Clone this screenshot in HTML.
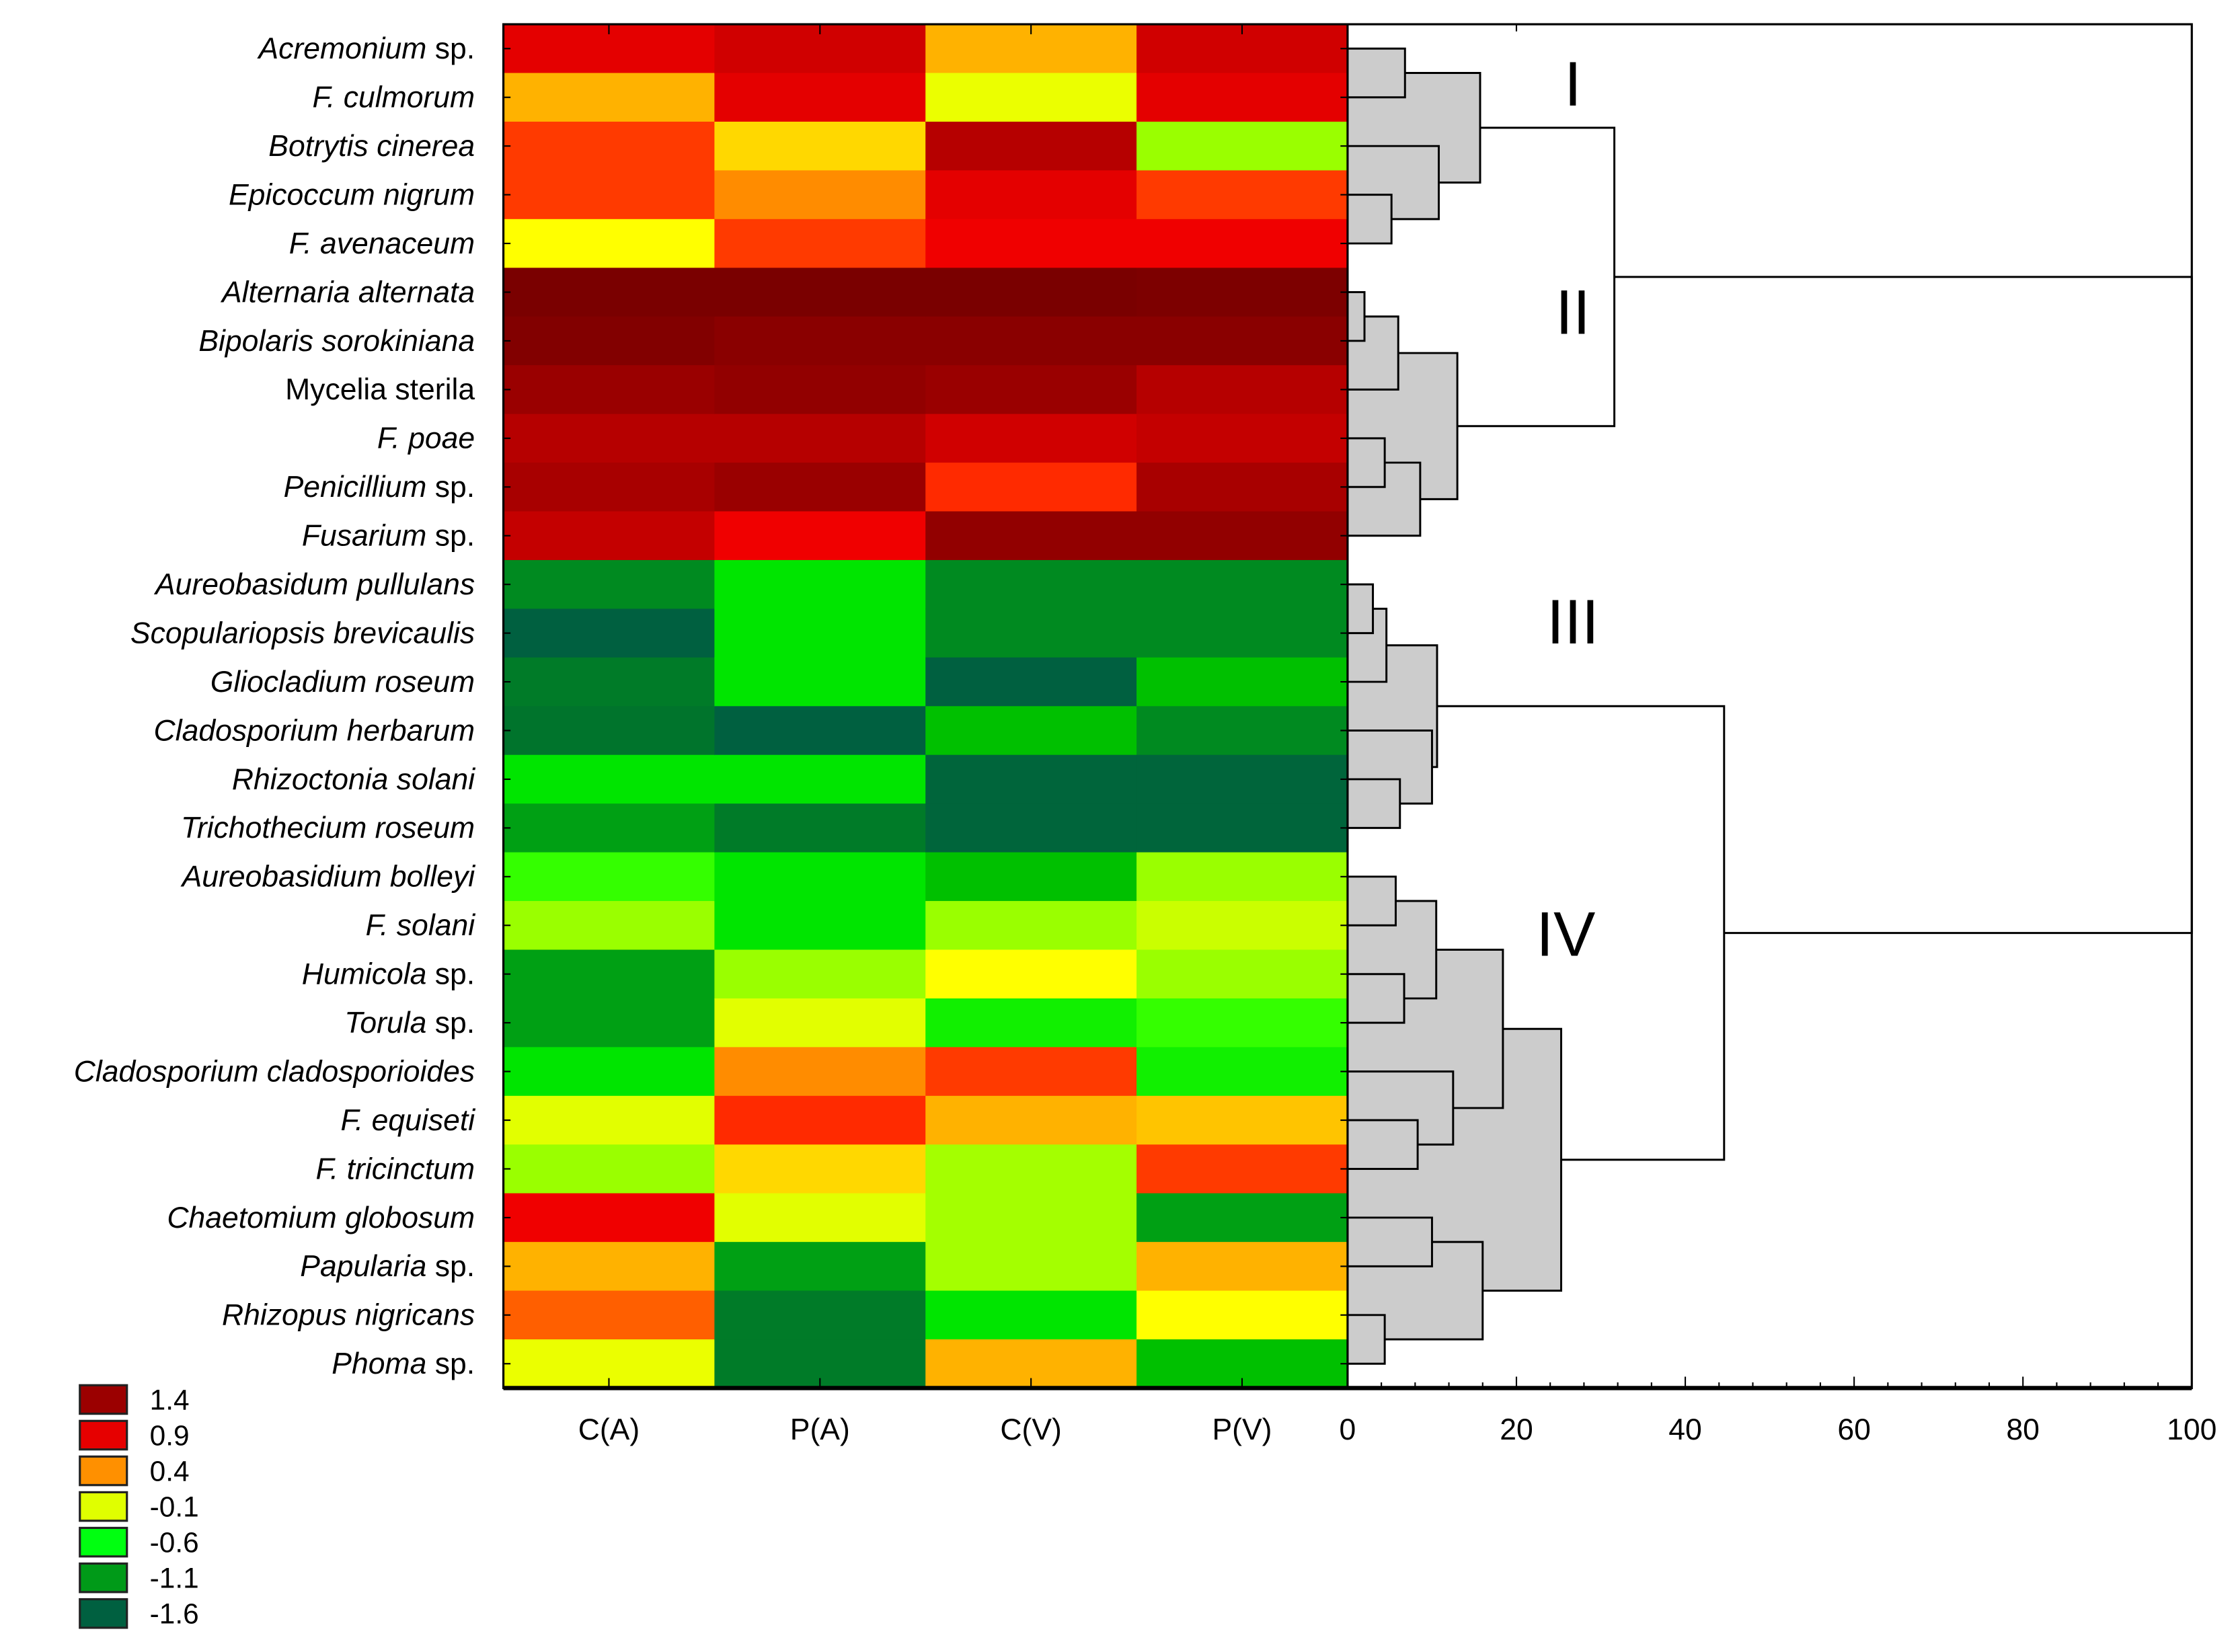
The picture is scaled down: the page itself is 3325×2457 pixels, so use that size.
<!DOCTYPE html>
<html><head><meta charset="utf-8"><style>
html,body{margin:0;padding:0;background:#fff}
svg{display:block}
text{font-family:"Liberation Sans","DejaVu Sans",sans-serif}
</style></head><body>
<svg id="chart" xmlns="http://www.w3.org/2000/svg" width="3325" height="2457" viewBox="0 0 1568 1158" preserveAspectRatio="none">
<g id="cells"></g>
<g id="dendro"></g>
<g id="axes"></g>
<g id="labels"></g>
<g id="legend"></g>
<text x="1103" y="74" font-size="44" text-anchor="middle">I</text>
<text x="1103" y="234" font-size="44" text-anchor="middle">II</text>
<text x="1103" y="451" font-size="44" text-anchor="middle">III</text>
<text x="1098" y="670" font-size="44" text-anchor="middle">IV</text>
</svg>
<script>
const rowNames = [["Acremonium"," sp."],["F. culmorum",""],["Botrytis cinerea",""],["Epicoccum nigrum",""],["F. avenaceum",""],["Alternaria alternata",""],["Bipolaris sorokiniana",""],["","Mycelia sterila"],["F. poae",""],["Penicillium"," sp."],["Fusarium"," sp."],["Aureobasidum pullulans",""],["Scopulariopsis brevicaulis",""],["Gliocladium roseum",""],["Cladosporium herbarum",""],["Rhizoctonia solani",""],["Trichothecium roseum",""],["Aureobasidium bolleyi",""],["F. solani",""],["Humicola ","  sp."],["Torula"," sp."],["Cladosporium cladosporioides",""],["F. equiseti",""],["F. tricinctum",""],["Chaetomium globosum",""],["Papularia ","  sp."],["Rhizopus nigricans",""],["Phoma ","  sp."]];
const columns = ["C(A)","P(A)","C(V)","P(V)"];
const valCA = [0.95,0.25,0.75,0.75,-0.05,1.6,1.55,1.4,1.2,1.3,1.12,-1.3,-1.65,-1.4,-1.45,-0.62,-1.1,-0.45,-0.3,-1.1,-1.1,-0.62,-0.15,-0.3,0.9,0.25,0.6,-0.12];
const valPA = [1.05,0.95,0.1,0.4,0.75,1.6,1.5,1.45,1.2,1.4,0.9,-0.62,-0.62,-0.62,-1.65,-0.62,-1.4,-0.62,-0.62,-0.3,-0.15,0.4,0.8,0.1,-0.15,-1.1,-1.4,-1.4];
const valCV = [0.25,-0.12,1.2,0.95,0.9,1.6,1.5,1.4,1.05,0.8,1.45,-1.3,-1.3,-1.65,-0.85,-1.6,-1.6,-0.85,-0.3,-0.05,-0.55,0.75,0.25,-0.28,-0.28,-0.28,-0.62,0.25];
const valPV = [1.05,0.95,-0.3,0.75,0.9,1.58,1.5,1.2,1.12,1.3,1.45,-1.3,-1.3,-0.85,-1.3,-1.6,-1.6,-0.3,-0.2,-0.3,-0.45,-0.55,0.18,0.75,-1.1,0.25,-0.05,-0.85];
const legendValues = ["1.4","0.9","0.4","-0.1","-0.6","-1.1","-1.6"];
const legendColors = ["#9b0000","#e60000","#ff9000","#e0ff00","#00ff10","#009a18","#006040"];
const distTicks = [0,20,40,60,80,100];
const merges = [
[0,1,6.8],[3,4,5.2],[2,29,10.8],[28,30,15.7],
[5,6,2],[32,7,6],[8,9,4.4],[34,10,8.6],[33,35,13],
[31,36,31.6],
[11,12,3],[38,13,4.6],[15,16,6.2],[14,40,10],[39,41,10.6],
[17,18,5.7],[19,20,6.7],[43,44,10.5],[22,23,8.3],[21,46,12.5],[45,47,18.4],
[24,25,10],[26,27,4.4],[49,50,16],[48,51,25.3],
[42,52,44.6],[37,53,100]
];
const NS="http://www.w3.org/2000/svg";
const X0=353,X1=945,Y0=17,Y1=973,DX1=1537;
const nRows=rowNames.length, rowH=(Y1-Y0)/nRows, colW=(X1-X0)/columns.length;
const yRow=i=>Y0+rowH*(i+0.5);
const xDist=d=>X1+(DX1-X1)*d/100;
const stops=[[1.6,"#7a0000"],[1.4,"#9a0000"],[1.2,"#b60000"],[1.0,"#d80000"],[0.9,"#f00000"],[0.8,"#ff2a00"],[0.7,"#ff4a00"],[0.55,"#ff6a00"],[0.4,"#ff8c00"],[0.25,"#ffb200"],[0.1,"#ffd800"],[-0.05,"#ffff00"],[-0.15,"#e2ff00"],[-0.3,"#9aff00"],[-0.45,"#34ff00"],[-0.6,"#00e800"],[-0.85,"#00c000"],[-1.1,"#00a014"],[-1.3,"#008a20"],[-1.45,"#00742c"],[-1.65,"#006040"]];
function hex(c){return [1,3,5].map(i=>parseInt(c.substr(i,2),16));}
function color(v){
 if(v>=stops[0][0])return stops[0][1];
 for(let i=0;i<stops.length-1;i++){const[a,ca]=stops[i],[b,cb]=stops[i+1];
  if(v<=a&&v>=b){const t=(a-v)/(a-b),A=hex(ca),B=hex(cb);
   return "rgb("+A.map((x,k)=>Math.round(x+(B[k]-x)*t)).join(",")+")";}}
 return stops[stops.length-1][1];
}
function mk(tag,attrs,parent){const e=document.createElementNS(NS,tag);for(const k in attrs)e.setAttribute(k,attrs[k]);parent.appendChild(e);return e;}
const cells=document.getElementById("cells");
const series=[valCA,valPA,valCV,valPV];
series.forEach((arr,c)=>arr.forEach((v,r)=>{
 const e=mk("rect",{x:X0+c*colW,y:Y0+r*rowH,width:colW+0.5,height:rowH+0.5,fill:color(v)},cells);
 
 
}));
const dg=document.getElementById("dendro");
const nodeY=[],nodeH=[];
for(let i=0;i<nRows;i++){nodeY[i]=yRow(i);nodeH[i]=0;}
merges.forEach((m,k)=>{const id=nRows+k;nodeY[id]=(nodeY[m[0]]+nodeY[m[1]])/2;nodeH[id]=m[2];});
merges.forEach((m,k)=>{
 const ya=nodeY[m[0]],yb=nodeY[m[1]],x=xDist(m[2]);
 if(m[2]<30){const f=mk("rect",{x:X1,y:Math.min(ya,yb),width:x-X1,height:Math.abs(yb-ya),fill:"#cccccc"},dg);
  
  }
});
merges.forEach((m,k)=>{
 const ya=nodeY[m[0]],yb=nodeY[m[1]],x=xDist(m[2]);
 const p=mk("path",{d:`M${xDist(nodeH[m[0]])},${ya}H${x}V${yb}H${xDist(nodeH[m[1]])}`,fill:"none",stroke:"#000","stroke-width":1.4},dg);
 
 
});
const ax=document.getElementById("axes");
mk("rect",{x:X0,y:Y0,width:DX1-X0,height:Y1-Y0,fill:"none",stroke:"#000","stroke-width":1.5},ax);
mk("line",{x1:X1,y1:Y0,x2:X1,y2:Y1,stroke:"#000","stroke-width":1.5},ax);
mk("line",{x1:X0,y1:Y1,x2:DX1,y2:Y1,stroke:"#000","stroke-width":3},ax);
columns.forEach((c,i)=>{const x=X0+colW*(i+0.5);
 mk("line",{x1:x,y1:Y0,x2:x,y2:Y0+7,stroke:"#000","stroke-width":1},ax);
 mk("line",{x1:x,y1:Y1,x2:x,y2:Y1-7,stroke:"#000","stroke-width":1},ax);
 const t=mk("text",{x:x,y:1009,"font-size":21,"text-anchor":"middle"},ax);t.textContent=c;
 
 
});
for(let r=0;r<nRows;r++){const y=yRow(r);
 mk("line",{x1:X0,y1:y,x2:X0+5,y2:y,stroke:"#000","stroke-width":1},ax);
 mk("line",{x1:X1,y1:y,x2:X1-5,y2:y,stroke:"#000","stroke-width":1},ax);}
for(let d=0;d<=100;d+=4){const x=xDist(d),maj=d%20===0;
 mk("line",{x1:x,y1:Y1,x2:x,y2:Y1-(maj?8:4),stroke:"#000","stroke-width":1},ax);}
mk("line",{x1:xDist(20),y1:Y0,x2:xDist(20),y2:Y0+5,stroke:"#000","stroke-width":1},ax);
distTicks.forEach(d=>{const t=mk("text",{x:xDist(d),y:1009,"font-size":21,"text-anchor":"middle"},ax);t.textContent=d;
 
 });
const lg=document.getElementById("labels");
rowNames.forEach((n,i)=>{const t=mk("text",{x:333,y:yRow(i)+7,"font-size":21,"text-anchor":"end"},lg);
 if(n[0]){const a=mk("tspan",{"font-style":"italic"},t);a.textContent=n[0];}
 if(n[1]){const b=mk("tspan",{},t);b.textContent=n[1];}
 
 
});
const lgd=document.getElementById("legend");
legendValues.forEach((v,i)=>{const y=971+i*25;
 const r=mk("rect",{x:56,y:y,width:33,height:20,fill:legendColors[i],stroke:"#222","stroke-width":1.5},lgd);
 
 
 const t=mk("text",{x:105,y:y+17,"font-size":20},lgd);t.textContent=v;
 
 
});
</script>
</body></html>
